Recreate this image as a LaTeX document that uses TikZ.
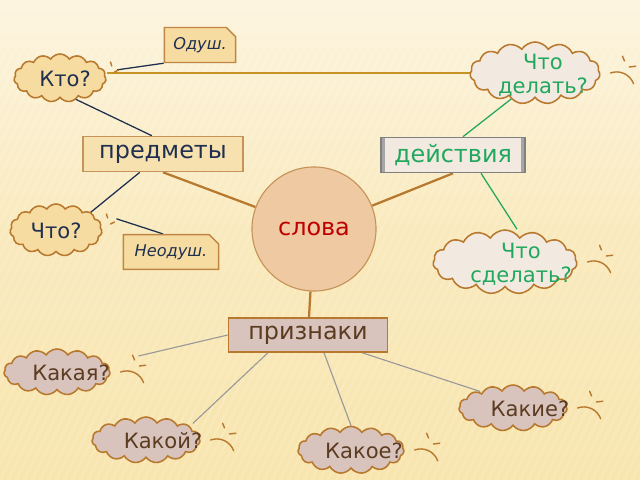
\documentclass[tikz,border=0pt]{standalone}
\usepackage{fontspec}
\setmainfont{DejaVu Sans}
\usetikzlibrary{shapes.symbols,shapes.misc,positioning,calc}
\definecolor{bgtop}{HTML}{FCF4DE}
\definecolor{bgbot}{HTML}{F8E5AE}
\definecolor{navy}{HTML}{1F2F50}
\definecolor{grn}{HTML}{22A85E}
\definecolor{brn}{HTML}{B8782E}
\definecolor{sand}{HTML}{F6DCA0}
\definecolor{milk}{HTML}{F2EAE1}
\definecolor{rose}{HTML}{D8C3BD}
\definecolor{clay}{HTML}{EFC9A1}
\definecolor{cocoa}{HTML}{5B3C20}
\pgfdeclarelayer{bg}
\pgfdeclarelayer{lines}
\pgfsetlayers{bg,lines,main}
\newcommand{\cloudtext}[2]{\makebox[0pt]{\hspace*{#1}\smash{\raisebox{-0.4em}{\begin{tabular}{@{}c@{}}#2\end{tabular}}}}}

\begin{document}
\begin{tikzpicture}[x=0.025cm,y=-0.025cm]
\tikzstyle{bub}=[cloud,cloud puffs=15,cloud puff arc=115,cloud ignores aspect,draw=brn,line width=1.1pt,inner sep=0pt,font=\fontsize{15}{17}\selectfont]
\tikzstyle{tag}=[chamfered rectangle,chamfered rectangle corners=north east,chamfered rectangle xsep=3pt,draw=brn!90,line width=1pt,fill=sand,font=\itshape\fontsize{11.5}{13}\selectfont,text=navy,minimum height=0.6cm]
\tikzstyle{box}=[rectangle,line width=1pt,font=\fontsize{17}{20}\selectfont,minimum height=0.88cm]
\tikzstyle{tail}=[brn,line width=1pt,line cap=round]
% background
\useasboundingbox (0,0) rectangle (640,480);
\begin{pgfonlayer}{bg}
\shade[top color=bgtop,bottom color=bgbot,middle color=bgbot!70!bgtop] (0,0) rectangle (640,480);
\foreach \i in {-480,-472,...,640}
  \draw[white,opacity=0.18,line width=1.2pt] (\i,480) -- (\i+240,0);
\end{pgfonlayer}
\coordinate (top) at (112,73);
% nodes
\node[bub,fill=sand,minimum width=2.3cm,minimum height=1.2cm,text=navy] (kto) at (60,78) {\cloudtext{0.25cm}{Кто?}};
\node[tag,minimum width=1.75cm] (odush) at (200,45) {Одуш.};
\node[bub,fill=milk,minimum width=3.25cm,minimum height=1.55cm,text=grn] (chtodel) at (535,73) {\cloudtext{0.4cm}{Что\\делать?}};
\node[box,draw=brn!80,fill=sand!85!white,text=navy,minimum width=4cm] (predm) at (163,154) {предметы};
\node[box,draw=gray,fill=milk,text=grn,minimum width=3.6cm,
  path picture={\draw[gray!70,line width=2pt] ([xshift=2pt]path picture bounding box.south west) -- ([xshift=2pt]path picture bounding box.north west);
    \draw[gray!70,line width=2pt] ([xshift=-2pt]path picture bounding box.south east) -- ([xshift=-2pt]path picture bounding box.north east);}] (deistv) at (453,155) {действия};
\node[circle,draw=brn!80,line width=0.8pt,fill=clay,minimum size=3.1cm,text=red!75!black,font=\fontsize{17}{20}\selectfont] (slova) at (314,229) {слова};
\node[bub,fill=sand,minimum width=2.3cm,minimum height=1.3cm,text=navy] (chto) at (56,230) {\cloudtext{0cm}{Что?}};
\node[tag,minimum width=2.38cm] (neod) at (171,252) {Неодуш.};
\node[bub,fill=milk,minimum width=3.6cm,minimum height=1.6cm,text=grn] (chtosdel) at (505,262) {\cloudtext{0.8cm}{Что\\сделать?}};
\node[box,draw=brn,fill=rose,text=cocoa,minimum width=3.98cm,minimum height=0.85cm] (priz) at (308,335) {признаки};
\node[bub,fill=rose,minimum width=2.65cm,minimum height=1.15cm,text=cocoa] (kakaya) at (57,372) {\cloudtext{0.7cm}{Какая?}};
\node[bub,fill=rose,minimum width=2.7cm,minimum height=1.15cm,text=cocoa] (kakoy) at (146,440) {\cloudtext{0.85cm}{Какой?}};
\node[bub,fill=rose,minimum width=2.65cm,minimum height=1.18cm,text=cocoa] (kakoe) at (351,450) {\cloudtext{0.65cm}{Какое?}};
\node[bub,fill=rose,minimum width=2.7cm,minimum height=1.15cm,text=cocoa] (kakie) at (513,408) {\cloudtext{0.85cm}{Какие?}};
% connectors
\begin{pgfonlayer}{lines}
\draw[brn!80!yellow,line width=1pt] (chtodel.west |- top) -- (kto.east |- top);
\draw[navy,line width=0.9pt,shorten >=0.3cm] (odush.south west) -- (kto);
\draw[navy,line width=0.9pt] ([shift={(-0.75cm,0.05cm)}]kto.south east) -- ([xshift=-0.28cm]predm.north);
\draw[navy,line width=0.9pt] ([xshift=-0.58cm]predm.south) -- ([shift={(-0.05cm,-0.1cm)}]chto.north east);
\draw[navy,line width=0.9pt] ([shift={(0.35cm,0.28cm)}]chto.east) -- ([xshift=-0.2cm]neod.north);
\draw[brn,line width=1.6pt] (predm.south) -- (slova);
\draw[brn,line width=1.6pt] (deistv.south) -- (slova);
\draw[brn,line width=1.6pt] (slova) -- (priz);
\draw[grn,line width=0.9pt] ([xshift=0.25cm]deistv.north) -- ([xshift=-0.58cm]chtodel.south);
\draw[grn,line width=0.9pt] ([xshift=0.7cm]deistv.south) -- ([xshift=0.3cm]chtosdel.north);
\draw[gray!80,line width=0.8pt] (priz.west) -- ([shift={(0.7cm,0.4cm)}]kakaya.east);
\draw[gray!80,line width=0.8pt] ([xshift=-1cm]priz.south) -- ([xshift=0.2cm]kakoy.north east);
\draw[gray!80,line width=0.8pt] ([xshift=0.4cm]priz.south) -- (kakoe.north);
\draw[gray!80,line width=0.8pt] ([xshift=1.35cm]priz.south) -- ([xshift=0.15cm]kakie.north west);
\end{pgfonlayer}
% thought tails
\foreach \n in {chtodel,chtosdel,kakaya,kakoy,kakoe,kakie}{
  \draw[tail] ([shift={(0.25cm,0cm)}]\n.east) arc[start angle=110,end angle=20,radius=0.45cm];
  \draw[tail] ([shift={(0.55cm,0.42cm)}]\n.east) -- ++(0.05cm,-0.12cm);
  \draw[tail] ([shift={(0.72cm,0.15cm)}]\n.east) -- ++(0.16cm,0.02cm);
}
\foreach \n in {kto,chto}{
  \draw[tail] ([shift={(0.1cm,0.4cm)}]\n.east) -- ++(0.03cm,-0.1cm);
  \draw[tail] ([shift={(0.2cm,0.15cm)}]\n.east) -- ++(0.1cm,0.05cm);
}
\end{tikzpicture}
\end{document}
